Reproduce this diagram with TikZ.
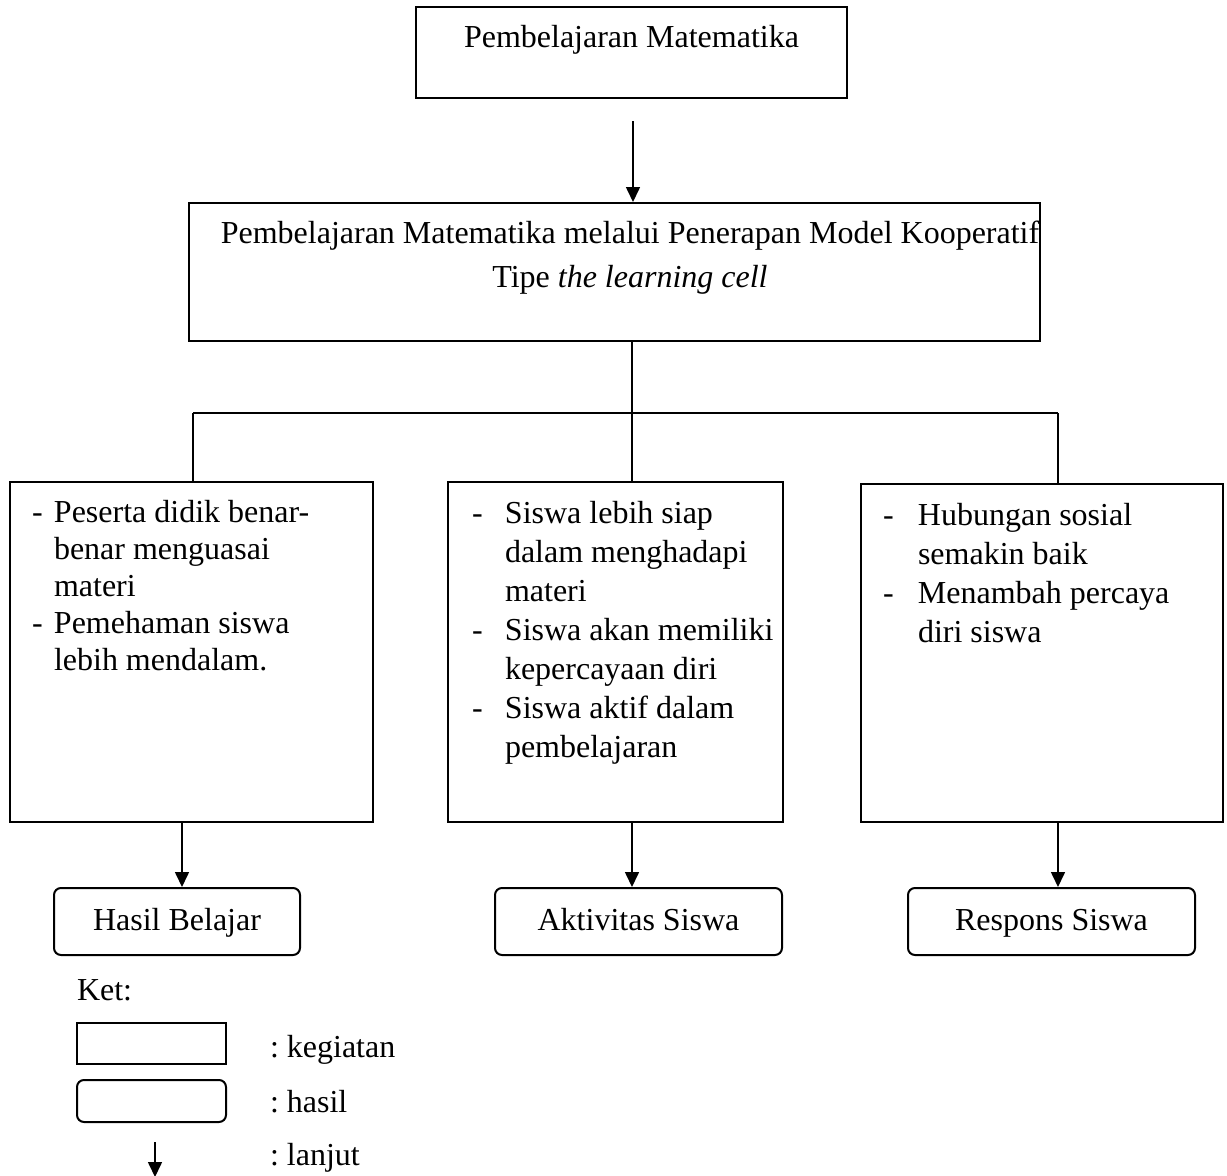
\documentclass[tikz,border=0pt]{standalone}
\usepackage{fontspec}
\setmainfont{Liberation Serif}
\usetikzlibrary{arrows.meta}
\frenchspacing

% bullet-style line start: a dash in a box of the given width
\newcommand{\dashlead}[1]{\makebox[#1][l]{-}}
\newcommand{\hangline}[1]{\hspace*{#1}}

\tikzset{
  txt/.style={inner sep=0pt, outer sep=0pt, font=\fontsize{32}{37}\selectfont},
  kegiatan/.style={draw, line width=2pt, rectangle, inner sep=0pt},
  hasil/.style={draw, line width=2pt, rectangle, rounded corners=7pt, inner sep=0pt},
  link/.style={line width=1.6pt},
  arr/.style={line width=1.6pt, -{Triangle[length=15pt,width=14pt]}},
}

\begin{document}
\begin{tikzpicture}[x=1pt,y=-1pt]
\useasboundingbox (0,0) rectangle (1227,1176);

% --- top activity boxes ---
\node[kegiatan, minimum width=431pt, minimum height=91pt] (top) at (631.5,52.5) {};
\node[txt, anchor=base] (toptxt) at (631.5,47) {Pembelajaran Matematika};

\node[kegiatan, minimum width=851pt, minimum height=138pt] (model) at (614.5,272) {};
\node[txt, anchor=base] (modeltxt) at (630,243)
  {\parbox[t]{840pt}{\centering\fontsize{32}{44}\selectfont
   Pembelajaran Matematika melalui Penerapan Model Kooperatif\\
   Tipe \textit{the learning cell}}};

% --- three effect boxes ---
\node[kegiatan, minimum width=363.5pt, minimum height=340pt] (left) at (191.25,652) {};
\node[txt, anchor=base west] (lefttxt) at (32,522)
  {\parbox[t]{335pt}{\raggedright\fontsize{32}{37}\selectfont
   \dashlead{22pt}Peserta didik benar-\\
   \hangline{22pt}benar menguasai\\
   \hangline{22pt}materi\\
   \dashlead{22pt}Pemehaman siswa\\
   \hangline{22pt}lebih mendalam.}};

\node[kegiatan, minimum width=335pt, minimum height=340pt] (mid) at (615.5,652) {};
\node[txt, anchor=base west] (midtxt) at (472,523)
  {\parbox[t]{310pt}{\raggedright\fontsize{32}{39}\selectfont
   \dashlead{33pt}Siswa lebih siap\\
   \hangline{33pt}dalam menghadapi\\
   \hangline{33pt}materi\\
   \dashlead{33pt}Siswa akan memiliki\\
   \hangline{33pt}kepercayaan diri\\
   \dashlead{33pt}Siswa aktif dalam\\
   \hangline{33pt}pembelajaran}};

\node[kegiatan, minimum width=362pt, minimum height=338pt] (right) at (1042,653) {};
\node[txt, anchor=base west] (righttxt) at (883,525)
  {\parbox[t]{335pt}{\raggedright\fontsize{32}{39.3}\selectfont
   \dashlead{35pt}Hubungan sosial\\
   \hangline{35pt}semakin baik\\
   \dashlead{35pt}Menambah percaya\\
   \hangline{35pt}diri siswa}};

% --- result boxes ---
\node[hasil, minimum width=246pt, minimum height=67pt] (hb) at (177,921.5) {};
\node[txt, anchor=base] (hbtxt) at (177,930) {Hasil Belajar};
\node[hasil, minimum width=287pt, minimum height=67pt] (as) at (638.5,921.5) {};
\node[txt, anchor=base] (astxt) at (638.5,930) {Aktivitas Siswa};
\node[hasil, minimum width=287pt, minimum height=67pt] (rs) at (1051.5,921.5) {};
\node[txt, anchor=base] (rstxt) at (1051.5,930) {Respons Siswa};

% --- connectors ---
\coordinate (tstart) at (633,121);
\draw[arr] (tstart) -- (tstart |- model.north);

\coordinate (hub) at (632,413);
\coordinate (jl) at (193,413);
\coordinate (jr) at (1058,413);
\draw[link] (hub |- model.south) -- (hub);
\draw[link] (jl) -- (jr);
\draw[link] (jl) -- (jl |- left.north);
\draw[link] (hub) -- (hub |- mid.north);
\draw[link] (jr) -- (jr |- right.north);

\coordinate (d1) at (182,0);
\coordinate (d2) at (632,0);
\coordinate (d3) at (1058,0);
\draw[arr] (d1 |- left.south) -- (d1 |- hb.north);
\draw[arr] (d2 |- mid.south) -- (d2 |- as.north);
\draw[arr] (d3 |- right.south) -- (d3 |- rs.north);

% --- legend ---
\node[txt, anchor=base west] (ket) at (77,1000) {Ket:};
\node[kegiatan, minimum width=149pt, minimum height=41pt] (lk) at (151.5,1043.5) {};
\node[txt, anchor=base west] (lktxt) at (270,1057) {: kegiatan};
\node[hasil, minimum width=149pt, minimum height=42pt] (lh) at (151.5,1101) {};
\node[txt, anchor=base west] (lhtxt) at (270,1112) {: hasil};
\coordinate (la0) at (155,1142);
\coordinate (la1) at (155,1177);
\draw[arr] (la0) -- (la1);
\node[txt, anchor=base west] (latxt) at (270,1165) {: lanjut};
\end{tikzpicture}
\end{document}
